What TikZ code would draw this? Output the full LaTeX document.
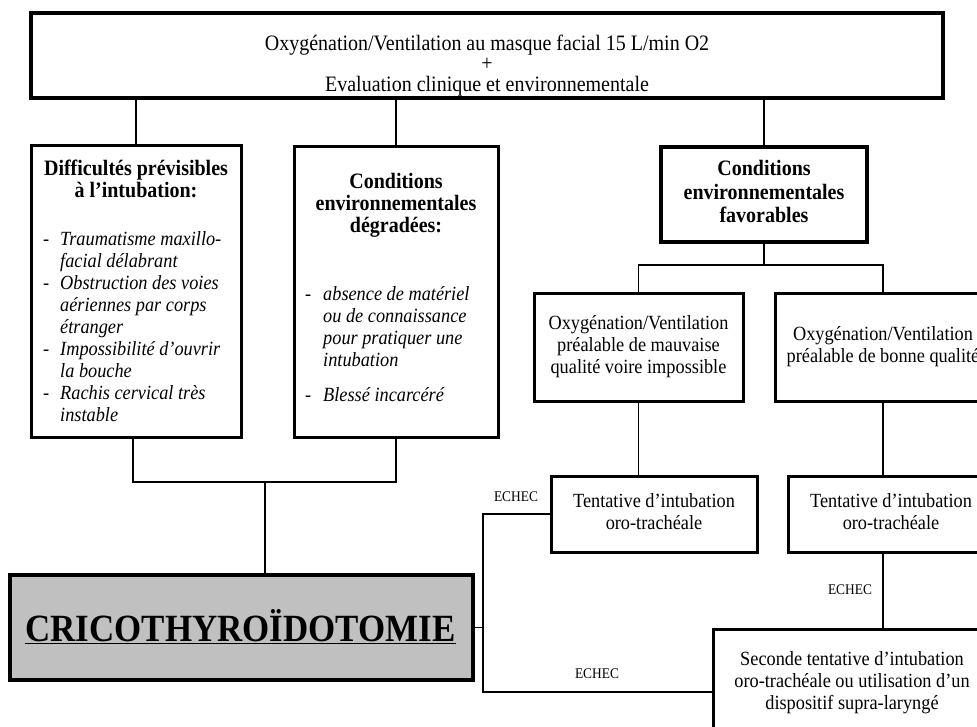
\documentclass[tikz,border=0pt]{standalone}
\usepackage{fontspec}
\usepackage{graphicx}
\setmainfont{Liberation Serif}
\newcommand{\myvs}[1]{\scalebox{1}[1.1]{#1}}
\newcommand{\mylines}[1]{\myvs{\begin{tabular}{@{}c@{}}#1\end{tabular}}}
\begin{document}
\begin{tikzpicture}[x=1pt,y=-1pt,
  box/.style={draw=black, line width=3pt, rectangle, inner sep=0pt, fill=white},
  conn/.style={draw=black, line width=1.6pt},
  txt/.style={inner sep=0pt, font=\fontsize{18.3}{20}\selectfont},
  ttl/.style={inner sep=0pt, font=\fontsize{20}{20}\selectfont\bfseries},
  itm/.style={inner sep=0pt, font=\fontsize{18.3}{20}\selectfont\itshape},
  lbl/.style={inner sep=0pt, font=\fontsize{13.4}{15}\selectfont}
]
\useasboundingbox (0,0) rectangle (977,726);
\clip (0,0) rectangle (977,726);
% boxes
\node[box, line width=3.4pt, minimum width=912pt, minimum height=85pt] (top) at (487,55.5) {};
\node[box, minimum width=210pt, minimum height=292pt] (left) at (136,291) {};
\node[box, minimum width=204pt, minimum height=291pt] (mid) at (396,291.5) {};
\node[box, line width=3.8pt, minimum width=206pt, minimum height=95pt, inner sep=0pt, font=\fontsize{20}{21.4}\selectfont\bfseries] (fav) at (764,194.5) {\mylines{Conditions\\environnementales\\favorables}};
\node[box, txt, minimum width=209pt, minimum height=108pt] (mauv) at (638.5,347) {\mylines{Oxygénation/Ventilation\\préalable de mauvaise\\qualité voire impossible}};
\node[box, txt, minimum width=216pt, minimum height=108pt] (bonne) at (883,347) {\mylines{Oxygénation/Ventilation\\préalable de bonne qualité}};
\node[box, txt, minimum width=206pt, minimum height=76pt] (tent1) at (654,514) {\mylines{Tentative d’intubation\\oro-trachéale}};
\node[box, txt, minimum width=206pt, minimum height=76pt] (tent2) at (891,514) {\mylines{Tentative d’intubation\\oro-trachéale}};
\node[box, txt, minimum width=278pt, minimum height=108pt] (sec) at (852,683) {\mylines{Seconde tentative d’intubation\\oro-trachéale ou utilisation d’un\\dispositif supra-laryngé}};
\node[box, line width=4pt, fill={rgb,255:red,192;green,192;blue,192}, minimum width=463pt, minimum height=105pt] (crico) at (241.5,627.5) {};
% texts
\node[inner sep=0pt, anchor=north, font=\fontsize{20}{18.2}\selectfont] (toptxt) at (487,35) {\mylines{Oxygénation/Ventilation au masque facial 15 L/min O2\\+\\Evaluation clinique et environnementale}};
\node[ttl, anchor=north] (lefttl) at (136,159.6) {\mylines{Difficultés prévisibles\\à l’intubation:}};
\node[itm, anchor=north west] (leftitems) at (43,229.6) {\myvs{\begin{tabular}{@{}p{17pt}@{}l@{}}
\upshape- & Traumatisme maxillo-\\
 & facial délabrant\\
\upshape- & Obstruction des voies\\
 & aériennes par corps\\
 & étranger\\
\upshape- & Impossibilité d’ouvrir\\
 & la bouche\\
\upshape- & Rachis cervical très\\
 & instable
\end{tabular}}};
\node[ttl, anchor=north] (midttl) at (396,172.6) {\mylines{Conditions\\environnementales\\dégradées:}};
\node[itm, anchor=north west] (miditems) at (305,284.6) {\myvs{\begin{tabular}{@{}p{18pt}@{}l@{}}
\upshape- & absence de matériel\\
 & ou de connaissance\\
 & pour pratiquer une\\
 & intubation\\[12pt]
\upshape- & Blessé incarcéré
\end{tabular}}};
\node[inner sep=0pt, anchor=base, font=\fontsize{36}{40}\selectfont\bfseries] (cricotxt) at (240.5,641) {\scalebox{0.97}[1.07]{\underline{CRICOTHYROÏDOTOMIE}}};
\node[lbl] (e1) at (516,497) {\myvs{ECHEC}};
\node[lbl] (e2) at (850,590) {\myvs{ECHEC}};
\node[lbl] (e3) at (597,674) {\myvs{ECHEC}};
% connectors
\coordinate (jl) at (133,482);
\coordinate (jm) at (265,482);
\coordinate (jfl) at (637,265);
\coordinate (eb) at (483,692);
\draw[conn] (top.south -| left.north) -- (left.north);
\draw[conn] (top.south -| mid.north) -- (mid.north);
\draw[conn] (top.south -| fav.north) -- (fav.north);
\draw[conn] (left.south -| jl) -- (jl) -- (jl -| mid.south) -- (mid.south);
\draw[conn] (jm) -- (jm |- crico.north);
\draw[conn] (fav.south) -- (fav.south |- jfl);
\draw[conn] (mauv.north) -- (mauv.north |- jfl) -- (bonne.north |- jfl) -- (bonne.north);
\draw[conn] (mauv.south) -- (mauv.south |- tent1.north);
\draw[conn] (bonne.south) -- (bonne.south |- tent2.north);
\draw[conn] (bonne.south |- tent2.south) -- (bonne.south |- sec.north);
\draw[conn] (tent1.west) -- (tent1.west -| eb) -- (eb) -- (eb -| sec.west);
\draw[conn] (crico.east) -- (crico.east -| eb);
\end{tikzpicture}
\end{document}
